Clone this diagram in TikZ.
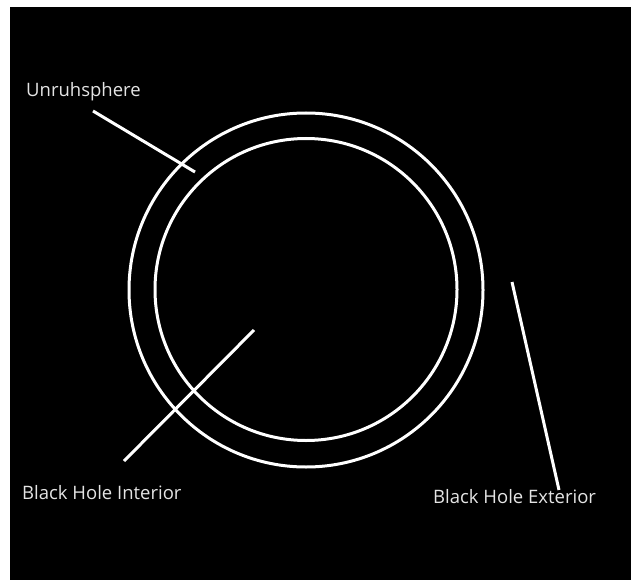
\documentclass[tikz,border=0pt]{standalone}
\usepackage{fontspec}
\setmainfont{Open Sans}
\definecolor{txt}{HTML}{E4E4E4}
\begin{document}
\begin{tikzpicture}[x=1pt,y=-1pt,
  ring/.style={circle,draw=white,line width=3pt,inner sep=0pt},
  pointer/.style={draw=white,line width=3pt},
  lbl/.style={text=txt,font=\fontsize{18.5}{20}\selectfont,inner sep=0pt,anchor=base west}]
\fill[white] (0,0) rectangle (631,580);
\fill[black] (10,7) rectangle (631,580);
\useasboundingbox (0,0) rectangle (631,580);
\node[ring,minimum size=354pt] (outer) at (306,290) {};
\node[ring,minimum size=302pt] (inner) at (306,289.5) {};
\node[lbl] (unruh) at (26,97) {Unruhsphere};
\node[lbl] (interior) at (22,499) {Black Hole Interior};
\node[lbl] (exterior) at (433,503) {Black Hole Exterior};
\coordinate (u1) at (93,111);
\coordinate (u2) at (195,172);
\coordinate (i1) at (254,330);
\coordinate (i2) at (124,461);
\coordinate (e1) at (512,282);
\coordinate (e2) at (559,490);
\draw[pointer] (u1) -- (u2);
\draw[pointer] (i1) -- (i2);
\draw[pointer] (e1) -- (e2);
\end{tikzpicture}
\end{document}
